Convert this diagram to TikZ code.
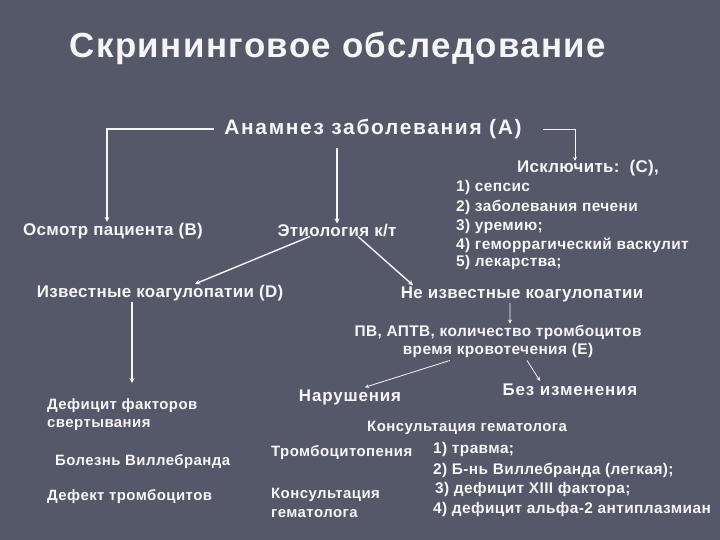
\documentclass[tikz,border=0pt]{standalone}
\usepackage{fontspec}
\setmainfont{Liberation Sans}
\newfontfamily\titlefam[LetterSpace=4]{Liberation Sans}
\newfontfamily\headfam[LetterSpace=8]{Liberation Sans}
\newfontfamily\lblfam[LetterSpace=2]{Liberation Sans}
\newfontfamily\midfam[LetterSpace=5]{Liberation Sans}
\newfontfamily\itemfam[LetterSpace=2.5]{Liberation Sans}
\newfontfamily\smallfam[LetterSpace=3]{Liberation Sans}
\usetikzlibrary{arrows.meta,calc}
\definecolor{scrbg}{HTML}{555869}
\definecolor{scrtext}{HTML}{F6F6F6}
\tikzset{
  lbl/.style    ={text=scrtext, inner sep=1pt, font=\fontsize{17}{20}\selectfont\lblfam\bfseries},
  headlbl/.style={lbl, font=\fontsize{21}{24}\selectfont\headfam\bfseries},
  midlbl/.style ={lbl, font=\fontsize{17}{20}\selectfont\midfam\bfseries},
  smalllbl/.style={lbl, font=\fontsize{15}{19}\selectfont\smallfam\bfseries},
  itemlbl/.style={lbl, anchor=west, font=\fontsize{15.5}{18}\selectfont\itemfam\bfseries},
  link/.style   ={draw=scrtext, line width=1.4pt, -{Stealth[length=5pt,width=5pt]}},
  thinlink/.style={draw=scrtext, line width=0.8pt, -{Stealth[length=4pt,width=4pt]}},
}
\begin{document}
\begin{tikzpicture}[x=1bp,y=-1bp]
  \fill[scrbg] (0,0) rectangle (720,540);

  % ---- title ---------------------------------------------------------------
  \node[lbl, font=\fontsize{35}{38}\selectfont\titlefam\bfseries] (title) at (338,48) {Скрининговое обследование};

  % ---- anamnesis -------------------------------------------------------------
  \node[headlbl] (anam) at (373,129) {Анамнез заболевания (А)};
  \node[lbl] (osm) at (113,231) {Осмотр пациента (В)};
  \node[lbl] (etio) at (337,231) {Этиология к/т};
  \node[lbl] (iskl) at (588,168) {Исключить:\ \ (С),};
  \foreach [count=\i] \txt/\yy in {сепсис/188, заболевания печени/207,
      уремию;/227, геморрагический васкулит/245, лекарства;/263} {
    \node[itemlbl] (excl\i) at (455,\yy) {\i) \txt};
  }

  \draw[link] ([xshift=-9bp]anam.west) -| ([xshift=-6bp]osm.north);
  \draw[link] (anam.south -| etio.north) ++(0,8) -- (etio.north);
  \draw[thinlink] ([xshift=20bp]anam.east) -| ([xshift=-13bp,yshift=-2bp]iskl.north);

  % ---- known / unknown -------------------------------------------------------
  \node[lbl] (known) at (160,293) {Известные коагулопатии (D)};
  \node[lbl] (unknown) at (522,294) {Не известные коагулопатии};
  \draw[link] ([xshift=-27bp,yshift=2bp]etio.south) -- ([xshift=35bp]known.north);
  \draw[link] ([xshift=21bp,yshift=2bp]etio.south) -- ([xshift=-109bp]unknown.north);

  % ---- known branch ------------------------------------------------------------
  \node[smalllbl, align=left, anchor=north west] (defic) at (46,397) {Дефицит факторов\\свертывания};
  \node[smalllbl, anchor=west] (vwd) at (54,462) {Болезнь Виллебранда};
  \node[smalllbl, anchor=west] (plt) at (46,497) {Дефект тромбоцитов};
  \draw[link] ([xshift=-28bp]known.south) -- ([xshift=-28bp,yshift=14bp]known.south |- defic.north);

  % ---- unknown branch ----------------------------------------------------------
  \node[itemlbl, anchor=center, align=center] (tests) at (498,341) {ПВ, АПТВ, количество тромбоцитов\\время кровотечения (Е)};
  \draw[thinlink] ([xshift=-12bp]unknown.south) -- ([xshift=12bp]tests.north);

  \node[midlbl] (viol) at (350,397) {Нарушения};
  \node[midlbl] (nochg) at (570,390) {Без изменения};
  \draw[thinlink] ([xshift=-48bp,yshift=-2bp]tests.south) -- ([xshift=15bp,yshift=1bp]viol.north);
  \draw[thinlink] ([xshift=29bp,yshift=-2bp]tests.south) -- ([xshift=-30bp,yshift=2bp]nochg.north);

  \node[smalllbl, anchor=west] (consult) at (366,428) {Консультация гематолога};
  \node[smalllbl, anchor=west] (thromb) at (270,453) {Тромбоцитопения};
  \node[smalllbl, align=left, anchor=north west] (consult2) at (270,487) {Консультация\\гематолога};
  \foreach [count=\i] \txt/\xx/\yy in {травма;/432/450, Б-нь Виллебранда (легкая);/432/470,
      дефицит XIII фактора;/434/490, дефицит альфа-2 антиплазмиан/432/510} {
    \node[itemlbl] (cause\i) at (\xx,\yy) {\i) \txt};
  }
\end{tikzpicture}
\end{document}
